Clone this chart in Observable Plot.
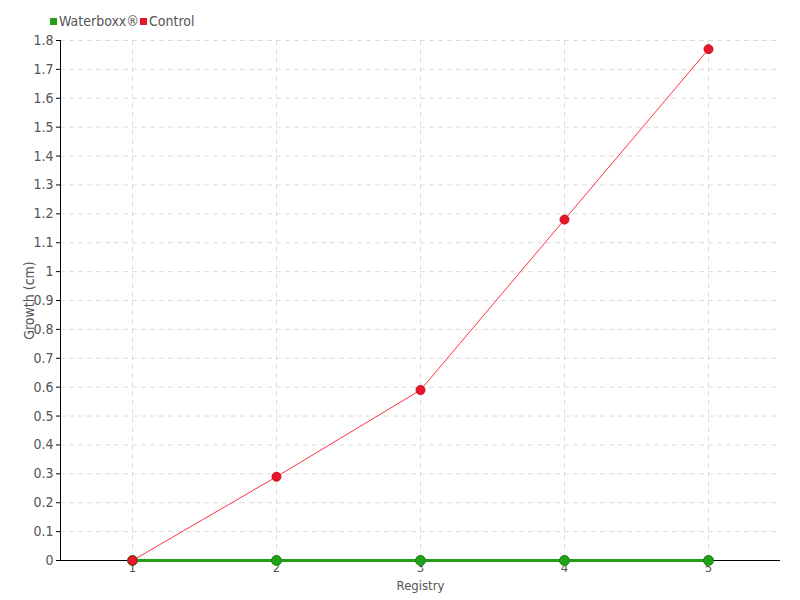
<!DOCTYPE html>
<html>
<head>
<meta charset="utf-8">
<script src="https://cdn.jsdelivr.net/npm/d3@7"></script>
<script src="https://cdn.jsdelivr.net/npm/@observablehq/plot@0.6"></script>
<style>
  body { margin: 0; background: #fff; font-family: "DejaVu Sans Condensed", "DejaVu Sans", sans-serif; font-stretch: condensed; }
  #legend { height: 30px; position: relative; font-size: 14px; color: #555; }
  #legend .item { position: absolute; top: 13px; display: flex; align-items: center; }
  #legend .sw { width: 7px; height: 7px; margin-right: 2px; }
  svg text { font-stretch: condensed; }
</style>
</head>
<body>
<div id="legend">
  <div class="item" style="left:50px"><span class="sw" style="background:#22a01a"></span><span>Waterboxx®</span></div>
  <div class="item" style="left:140px"><span class="sw" style="background:#e8162a"></span><span>Control</span></div>
</div>
<div id="chart"></div>
<script>
const registries = [1, 2, 3, 4, 5];
const xTickLabels = ["1", "2", "3", "4", "5"];
const waterboxx = [0, 0, 0, 0, 0];
const control = [0, 0.29, 0.59, 1.18, 1.77];
const yTicks = [0, 0.1, 0.2, 0.3, 0.4, 0.5, 0.6, 0.7, 0.8, 0.9, 1, 1.1, 1.2, 1.3, 1.4, 1.5, 1.6, 1.7, 1.8];
const yTickLabels = ["0", "0.1", "0.2", "0.3", "0.4", "0.5", "0.6", "0.7", "0.8", "0.9", "1", "1.1", "1.2", "1.3", "1.4", "1.5", "1.6", "1.7", "1.8"];
const xLabel = "Registry";
const yLabel = "Growth (cm)";

const wData = registries.map((r, i) => ({ x: r, y: waterboxx[i] }));
const cData = registries.map((r, i) => ({ x: r, y: control[i] }));

const chart = Plot.plot({
  width: 800,
  height: 570,
  marginTop: 10,
  marginBottom: 40,
  marginLeft: 60,
  marginRight: 20,
  style: { fontFamily: '"DejaVu Sans Condensed", "DejaVu Sans", sans-serif', fontSize: "14px", color: "#555", background: "#fff" },
  x: { domain: [0.5, 5.5] },
  y: { domain: [0, 1.8] },
  marks: [
    Plot.gridY(yTicks, { stroke: "#dcdcdc", strokeOpacity: 1, strokeDasharray: "5,4" }),
    Plot.gridX(registries, { stroke: "#dcdcdc", strokeOpacity: 1, strokeDasharray: "5,4" }),
    Plot.ruleX([0.5], { stroke: "#000", strokeWidth: 1 }),
    Plot.ruleY([0], { stroke: "#000", strokeWidth: 1 }),
    Plot.axisY(yTicks, { tickFormat: (d) => yTickLabels[yTicks.indexOf(d)], tickSize: 4, tickPadding: 3, stroke: "#000", label: null, fill: "#555" }),
    Plot.axisX(registries, { tickFormat: (d) => xTickLabels[registries.indexOf(d)], tickSize: 0, tickPadding: 2, fontSize: 13, label: null, fill: "#555" }),
    Plot.text([xLabel], { frameAnchor: "bottom", dy: 29, fill: "#555", fontSize: 13 }),
    Plot.text([yLabel], { frameAnchor: "left", textAnchor: "middle", dx: -31, rotate: -90, fill: "#555", fontSize: 14 }),
    Plot.line(wData, { x: "x", y: "y", stroke: "#22a01a", strokeWidth: 3 }),
    Plot.dot(wData, { x: "x", y: "y", r: 5, fill: "#22a01a", stroke: "#1a8a12", strokeWidth: 1 }),
    Plot.line(cData, { x: "x", y: "y", stroke: "#ff3344", strokeWidth: 1 }),
    Plot.dot(cData, { x: "x", y: "y", r: 4.5, fill: "#e8162a", stroke: "#c8101f", strokeWidth: 1 })
  ]
});
document.getElementById("chart").appendChild(chart);
</script>
</body>
</html>
